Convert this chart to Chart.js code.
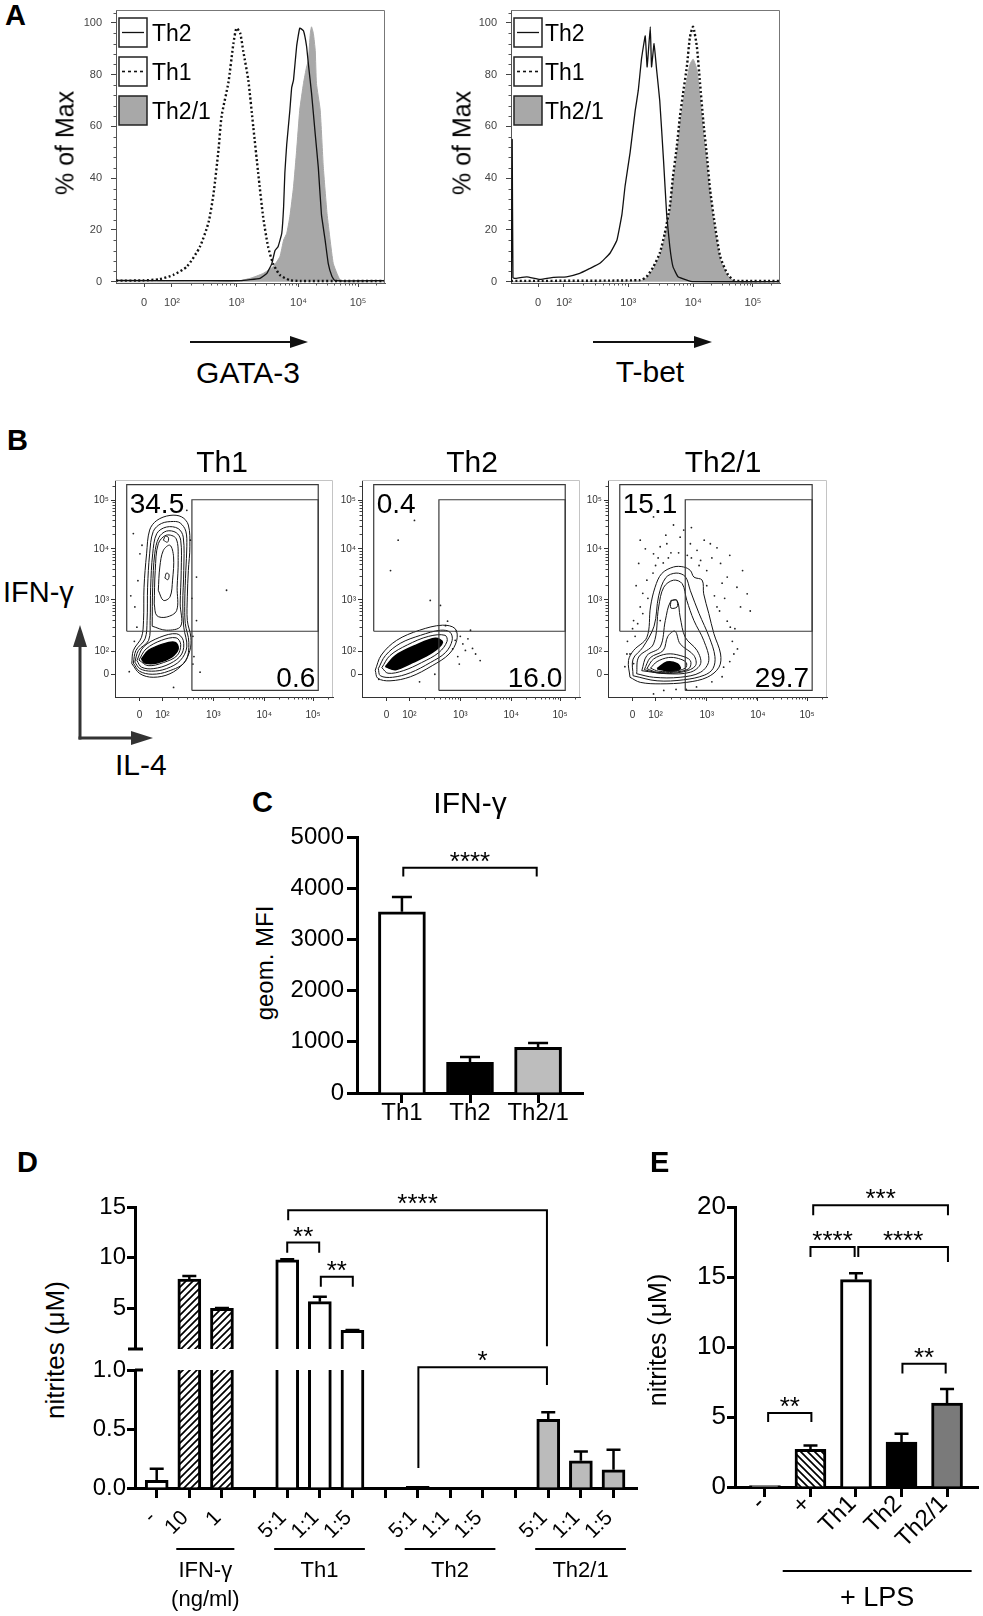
<!DOCTYPE html>
<html><head><meta charset="utf-8"><title>Figure</title>
<script src="https://cdn.jsdelivr.net/npm/chart.js@4.4.1/dist/chart.umd.min.js"></script>
<style>
html,body{margin:0;padding:0;background:#fff}
body{position:relative;width:983px;height:1616px;overflow:hidden;font-family:"Liberation Sans",Arial,Helvetica,sans-serif}
.t{position:absolute;white-space:nowrap;line-height:1;color:#000}
</style></head><body>
<svg width="983" height="1616" style="position:absolute;left:0;top:0;pointer-events:none">
<line x1="190" y1="342" x2="294" y2="342" stroke="#111" stroke-width="2"/>
<polygon points="290,336 308,342 290,348" fill="#111"/>
<line x1="593" y1="342" x2="698" y2="342" stroke="#111" stroke-width="2"/>
<polygon points="694,336 712,342 694,348" fill="#111"/>
<line x1="80" y1="739.5" x2="80" y2="645" stroke="#333" stroke-width="3"/>
<polygon points="73,647 80,625 87,647" fill="#333"/>
<line x1="78.5" y1="738" x2="133" y2="738" stroke="#333" stroke-width="3"/>
<polygon points="131,731 153,738 131,745" fill="#333"/>
</svg>
<script>
// ================= DATA =================
// Panel A – histograms: x = display position in log10 units, y = % of max
const histTickLabels = ['0', '10²', '10³', '10⁴', '10⁵'];
const gataTicks = [1.55, 2, 3.04, 4.04, 5];
const tbetTicks = [1.59, 2, 3.02, 4.05, 5];
const pctTicks = [0, 20, 40, 60, 80, 100];
const histLegend = ['Th2', 'Th1', 'Th2/1'];

const gataTh1 = [[1.10,0.4],[1.54,0.5],[1.80,1.0],[2.02,2.6],[2.24,5.8],[2.45,13.5],[2.59,23],[2.67,34],[2.75,51],[2.80,64],[2.91,77],[2.99,92],[3.04,98],[3.10,96],[3.15,89],[3.23,78],[3.31,60],[3.39,42],[3.47,25],[3.55,13.5],[3.63,7],[3.74,2.6],[3.90,0.6],[4.06,0.3],[5.43,0.3]];
const gataTh2 = [[1.10,0.5],[2.50,0.4],[3.10,0.4],[3.42,1.3],[3.53,3.2],[3.61,7],[3.66,12],[3.71,13.5],[3.77,18.7],[3.80,29],[3.82,42],[3.85,53],[3.90,66],[3.93,75],[3.96,78],[4.01,91],[4.06,98],[4.12,97],[4.17,91],[4.20,84],[4.25,73],[4.31,57],[4.36,44],[4.41,26],[4.47,16],[4.52,7],[4.58,2],[4.63,0.4],[5.43,0.4]];
const gataTh21 = [[1.10,0],[2.99,0],[3.26,1.3],[3.47,3.2],[3.63,5.8],[3.74,9.7],[3.80,16.1],[3.85,18.7],[3.90,25.1],[3.96,36.7],[4.01,50.8],[4.06,66.3],[4.12,76.6],[4.17,83],[4.20,85.6],[4.23,95.9],[4.25,98.5],[4.28,95.9],[4.31,89.4],[4.33,76.6],[4.39,66.3],[4.44,44.4],[4.50,26.4],[4.55,16.1],[4.60,7.1],[4.66,3.2],[4.71,0.6],[4.76,0],[5.43,0]];

const tbetTh2 = [[1.165,0],[1.178,55],[1.19,1.5],[1.22,1.3],[1.41,1.9],[1.62,0.9],[1.83,1.7],[2.04,1.9],[2.25,3.2],[2.41,5.1],[2.57,7.1],[2.73,11],[2.84,16],[2.92,26],[2.97,37],[3.05,50],[3.13,66],[3.18,74],[3.23,86],[3.29,95],[3.32,83],[3.37,98.5],[3.39,83],[3.43,92],[3.47,82],[3.52,70],[3.58,47],[3.63,26],[3.68,13.5],[3.73,5.8],[3.81,1.9],[3.95,0.6],[4.05,0],[5.43,0]];
const tbetTh1 = [[1.16,0.3],[3.21,0.6],[3.31,1.9],[3.42,5.8],[3.52,11],[3.60,18.7],[3.68,29],[3.73,40.5],[3.79,52],[3.84,63.7],[3.89,72.7],[3.95,83],[4.00,94.6],[4.05,98.5],[4.11,90.7],[4.16,76.6],[4.21,62.4],[4.27,48.3],[4.32,35.4],[4.40,21.2],[4.48,9.7],[4.59,3.2],[4.69,0.6],[4.79,0.3],[5.43,0.3]];
const tbetTh21 = [[1.16,0],[3.21,0.3],[3.31,1.5],[3.42,5],[3.52,10],[3.60,17],[3.68,27],[3.73,38],[3.79,49],[3.84,60],[3.89,69],[3.95,78],[4.00,84],[4.05,86],[4.11,82],[4.16,71],[4.21,58],[4.27,45],[4.32,33],[4.40,19],[4.48,8.5],[4.59,2.5],[4.69,0.4],[4.79,0],[5.43,0]];

// Panel B – flow cytometry contour plots (x = IL-4, y = IFN-γ, display log units)
const flowTickLabels = ['0', '10²', '10³', '10⁴', '10⁵'];
const flowTicksX = [1.55, 2, 3, 4, 4.96];
const flowTicksY = [1.54, 2, 3.02, 4.03, 4.99];
const gateIFN = [1.30, 2.40, 5.06, 5.30];
const gateIL4 = [2.58, 1.23, 5.06, 5.00];
const bTitles = ['Th1', 'Th2', 'Th2/1'];
const pctIFN = ['34.5', '0.4', '15.1'];
const pctIL4 = ['0.6', '16.0', '29.7'];

const th1Contours = [
 [[1.40,1.76],[1.43,2.02],[1.59,2.28],[1.63,2.61],[1.64,3.27],[1.69,3.93],[1.75,4.40],[1.89,4.59],[2.15,4.69],[2.38,4.66],[2.51,4.50],[2.54,4.07],[2.51,3.60],[2.49,3.08],[2.49,2.61],[2.56,2.28],[2.54,2.02],[2.41,1.76],[2.15,1.56],[1.82,1.49],[1.56,1.56],[1.40,1.76]],
 [[1.43,1.77],[1.48,2.02],[1.66,2.25],[1.70,2.61],[1.71,3.27],[1.75,3.93],[1.82,4.37],[1.98,4.53],[2.22,4.57],[2.35,4.54],[2.46,4.38],[2.48,4.07],[2.46,3.60],[2.44,3.00],[2.45,2.55],[2.52,2.18],[2.45,1.80],[2.12,1.61],[1.80,1.55],[1.55,1.61],[1.43,1.77]],
 [[1.46,1.79],[1.53,2.02],[1.73,2.22],[1.76,2.61],[1.77,3.27],[1.81,3.93],[1.89,4.33],[2.08,4.46],[2.31,4.43],[2.41,4.26],[2.42,3.60],[2.40,2.94],[2.42,2.48],[2.48,2.09],[2.35,1.82],[2.08,1.66],[1.79,1.61],[1.56,1.66],[1.46,1.79]],
 [[1.80,2.50],[1.81,3.27],[1.85,3.93],[1.93,4.25],[2.08,4.38],[2.27,4.35],[2.36,4.20],[2.37,3.60],[2.35,2.94],[2.36,2.50],[2.08,2.42],[1.80,2.50]],
 [[1.84,2.94],[1.86,3.60],[1.92,4.13],[2.08,4.30],[2.27,4.23],[2.31,3.80],[2.29,3.27],[2.28,2.81],[2.08,2.68],[1.89,2.71],[1.84,2.94]],
 [[1.92,3.21],[1.95,3.67],[2.02,4.00],[2.15,4.10],[2.22,3.87],[2.20,3.41],[2.15,3.08],[2.02,3.01],[1.92,3.21]],
 [[2.02,4.20],[2.06,4.28],[2.12,4.25],[2.10,4.16],[2.02,4.20]],
 [[2.05,3.45],[2.08,3.55],[2.13,3.52],[2.11,3.42],[2.05,3.45]],
 [[1.50,1.82],[1.63,2.09],[1.95,2.28],[2.28,2.35],[2.41,2.22],[2.38,1.95],[2.15,1.76],[1.82,1.66],[1.59,1.69],[1.50,1.82]],
 [[1.54,1.83],[1.68,2.05],[1.98,2.22],[2.27,2.27],[2.36,2.14],[2.29,1.92],[2.02,1.78],[1.72,1.72],[1.54,1.83]]
];
const th1Core = [[1.59,1.85],[1.73,2.02],[2.02,2.15],[2.25,2.18],[2.31,2.05],[2.18,1.89],[1.89,1.77],[1.66,1.77],[1.59,1.85]];
const th1Dots = [[1.56,3.93],[1.46,2.88],[2.67,3.47],[3.26,3.21],[2.67,2.61],[2.74,1.59],[2.22,1.29],[1.50,2.48],[1.43,4.33],[2.48,4.79],[1.38,3.10],[2.60,2.30],[1.35,1.60],[2.62,1.90],[1.45,2.20],[2.58,3.05],[1.60,4.10],[2.55,4.20],[1.52,3.40],[2.60,1.75]];

const th2Contours = [
 [[1.33,1.63],[1.45,1.93],[1.75,2.22],[2.20,2.42],[2.65,2.52],[2.90,2.45],[2.93,2.22],[2.78,1.95],[2.45,1.72],[2.02,1.50],[1.62,1.42],[1.38,1.47],[1.33,1.63]],
 [[1.39,1.66],[1.53,1.92],[1.82,2.16],[2.22,2.32],[2.61,2.42],[2.80,2.38],[2.84,2.22],[2.71,1.98],[2.41,1.78],[2.02,1.58],[1.67,1.49],[1.43,1.52],[1.39,1.66]],
 [[1.46,1.68],[1.62,1.92],[1.96,2.13],[2.38,2.30],[2.70,2.32],[2.74,2.20],[2.58,1.98],[2.24,1.78],[1.88,1.62],[1.58,1.57],[1.46,1.68]]
];
const th2Core = [[1.53,1.70],[1.73,1.92],[2.12,2.12],[2.51,2.26],[2.65,2.18],[2.45,1.98],[2.06,1.78],[1.73,1.64],[1.53,1.70]];
const th2Dots = [[2.61,2.91],[2.90,2.22],[3.10,2.02],[3.24,2.06],[3.39,1.82],[3.20,2.42],[2.71,2.51],[1.63,3.60],[2.10,4.59],[1.78,4.20],[2.41,3.01],[3.00,2.30],[2.95,1.90],[3.05,2.15],[2.85,2.05],[3.30,1.95],[2.75,2.60],[1.40,1.45],[2.20,1.40],[2.50,1.55],[2.92,2.40],[3.15,2.25],[2.98,1.75]];

const th21Contours = [
 [[1.50,1.49],[1.47,1.82],[1.57,2.02],[1.83,2.28],[1.90,2.88],[1.99,3.27],[2.12,3.54],[2.35,3.67],[2.55,3.67],[2.68,3.60],[2.75,3.47],[2.91,3.41],[2.94,3.14],[3.04,2.75],[3.14,2.35],[3.27,1.95],[3.24,1.69],[3.01,1.49],[2.61,1.39],[2.09,1.36],[1.70,1.39],[1.50,1.49]],
 [[1.56,1.52],[1.56,1.85],[1.75,2.08],[1.97,2.50],[2.06,3.10],[2.20,3.46],[2.40,3.55],[2.58,3.48],[2.68,3.20],[2.85,2.75],[3.05,2.28],[3.16,1.90],[3.12,1.66],[2.95,1.53],[2.55,1.44],[2.03,1.42],[1.56,1.52]],
 [[1.63,1.56],[1.67,1.89],[1.96,2.15],[2.06,2.88],[2.16,3.27],[2.35,3.41],[2.52,3.34],[2.61,3.01],[2.75,2.61],[2.94,2.22],[3.04,1.82],[2.88,1.59],[2.48,1.49],[1.96,1.49],[1.63,1.56]],
 [[1.73,1.62],[1.83,1.92],[2.09,2.09],[2.19,2.61],[2.29,2.98],[2.42,3.01],[2.48,2.68],[2.58,2.28],[2.81,2.02],[2.88,1.76],[2.68,1.59],[2.22,1.56],[1.73,1.62]],
 [[1.78,1.64],[1.90,1.88],[2.15,2.02],[2.24,2.30],[2.38,2.40],[2.48,2.15],[2.75,1.92],[2.78,1.72],[2.55,1.60],[2.10,1.57],[1.78,1.64]],
 [[1.83,1.66],[1.96,1.85],[2.22,1.95],[2.48,1.92],[2.68,1.82],[2.65,1.66],[2.35,1.59],[2.03,1.59],[1.83,1.66]],
 [[1.90,1.67],[2.03,1.80],[2.25,1.88],[2.45,1.86],[2.60,1.78],[2.58,1.67],[2.34,1.61],[2.06,1.61],[1.90,1.67]],
 [[2.30,3.01],[2.41,3.01],[2.42,2.88],[2.30,2.86],[2.30,3.01]]
];
const th21Core = [[2.03,1.66],[2.22,1.79],[2.42,1.76],[2.48,1.66],[2.29,1.61],[2.03,1.66]];
const th21Dots = [[1.80,4.03],[1.96,3.93],[2.09,4.07],[2.22,4.13],[2.48,4.26],[2.68,4.13],[2.81,4.00],[3.07,4.13],[3.27,3.74],[3.40,3.47],[3.59,3.27],[3.66,2.88],[1.57,2.61],[1.70,2.88],[1.83,3.41],[1.50,1.95],[1.96,4.66],[2.09,2.61],[3.46,2.48],[3.53,1.95],[3.33,1.69],[2.88,3.80],[2.55,4.40],[1.67,3.74],[3.79,3.14],[3.20,2.88],[1.96,1.16],[2.16,1.23],[1.57,1.76],[1.44,1.95],[2.30,3.95],[2.62,3.90],[3.00,3.60],[3.35,3.05],[1.75,3.15],[1.62,3.30],[3.50,2.20],[2.40,1.25],[3.10,3.85],[2.00,3.70],[1.60,2.30],[1.65,2.55],[1.75,2.75],[1.85,3.05],[1.95,3.55],[2.05,3.85],[2.15,3.75],[2.45,3.95],[2.70,3.85],[2.85,3.70],[3.00,3.30],[3.15,3.10],[3.25,2.80],[3.40,2.60],[3.55,2.45],[3.60,2.05],[3.45,1.80],[3.30,1.50],[3.10,1.40],[2.80,1.30],[2.60,1.25],[1.40,1.70],[1.45,2.20],[1.55,2.45],[2.20,4.30],[2.35,4.50],[2.70,4.45],[3.20,4.05],[3.45,3.90],[3.70,3.60],[3.85,2.80],[1.70,4.20],[2.95,4.20],[2.25,3.85],[3.30,3.35]];

// Panel C – IFN-γ geom. MFI
const cCats = ['Th1', 'Th2', 'Th2/1'];
const cMFI = [3540, 600, 890];
const cSEM = [290, 105, 85];
const cTicks = [0, 1000, 2000, 3000, 4000, 5000];
const cSig = [[0.02, 1.98, 4400, 4230, 4230, '****']];

// Panel D – nitrites (µM), broken axis
const dLabels = ['-', '10', '1', '', '5:1', '1:1', '1:5', '', '5:1', '1:1', '1:5', '', '5:1', '1:1', '1:5'];
const dValues = [0.064, 7.9, 5.0, null, 9.8, 5.67, 2.83, null, 0.015, 0, 0, null, 0.583, 0.23, 0.155];
const dErrors = [0.10, 0.3, 0.05, 0, 0.06, 0.49, 0.04, 0, 0, 0, 0, 0, 0.06, 0.08, 0.17];
const dTicksUpper = [5, 10, 15];
const dTicksLower = [0, 0.5, 1];
const dTickLabelsLower = ['0.0', '0.5', '1.0'];
const dGroups = [[0.6, 2.38, 'IFN-γ', '(ng/ml)'], [3.6, 6.38, 'Th1', ''], [7.6, 10.38, 'Th2', ''], [11.6, 14.38, 'Th2/1', '']];
const dSigUpper = [[4.0, 4.98, 11.5, 10.48, 10.48, '**'], [5.03, 6.01, 8.12, 7.14, 7.14, '**'], [4.03, 11.96, 14.67, 13.69, 1.26, '****']];
const dSigLower = [[8.02, 11.96, 1.023, 0.169, 0.873, '*']];

// Panel E – nitrites (µM) + LPS
const eLabels = ['-', '+', 'Th1', 'Th2', 'Th2/1'];
const eValues = [0.1, 2.69, 14.81, 3.21, 6.0];
const eErrors = [0, 0.27, 0.45, 0.6, 1.0];
const eTicks = [0, 5, 10, 15, 20];
const eGroups = [[0.39, 4.54, '+ LPS', '']];
const eSig = [[0.07, 1.02, 5.29, 4.64, 4.64, '**'], [3.02, 3.97, 8.81, 8.1, 8.1, '**'], [1.0, 1.97, 17.14, 16.43, 16.43, '****'], [2.05, 4.02, 17.14, 16.43, 16.07, '****'], [1.06, 4.02, 20.12, 19.41, 19.41, '***']];

// ================= HELPERS =================
Chart.defaults.font.family = '"Liberation Sans", Arial, Helvetica, sans-serif';
Chart.defaults.color = '#000';
const FAM = Chart.defaults.font.family;
const pts = a => a.map(p => ({x: p[0], y: p[1]}));
const barPts = a => a.map((v, i) => ({x: i, y: v}));
const rectPts = g => [{x:g[0],y:g[1]},{x:g[2],y:g[1]},{x:g[2],y:g[3]},{x:g[0],y:g[3]},{x:g[0],y:g[1]}];
function logMinors(m, max) {
  const out = [];
  for (let i = 1; i < m.length; i++) {
    const s = m[i], step = i + 1 < m.length ? m[i + 1] - s : s - m[i - 1];
    for (let k = 2; k < 10; k++) { const v = s + step * Math.log10(k); if (v < max) out.push(v); }
  }
  return out;
}
function hatch(dir) {
  const s = 7, c = document.createElement('canvas'); c.width = c.height = s;
  const g = c.getContext('2d'); g.fillStyle = '#fff'; g.fillRect(0, 0, s, s);
  g.strokeStyle = '#000'; g.lineWidth = 1.7; g.beginPath();
  if (dir === '/') { g.moveTo(-1, s + 1); g.lineTo(s + 1, -1); g.moveTo(-s/2 - 1, s/2 + 1); g.lineTo(s/2 + 1, -s/2 - 1); g.moveTo(s/2 - 1, 1.5*s + 1); g.lineTo(1.5*s + 1, s/2 - 1); }
  else { g.moveTo(-1, -1); g.lineTo(s + 1, s + 1); g.moveTo(-s/2 - 1, s/2 - 1); g.lineTo(s/2 + 1, 1.5*s + 1); g.moveTo(s/2 - 1, -s/2 - 1); g.lineTo(1.5*s + 1, s/2 + 1); }
  g.stroke();
  return g.createPattern(c, 'repeat');
}
function txt(s, x, base, size, align, bold) {
  const d = document.createElement('div'); d.className = 't'; d.textContent = s;
  d.style.fontSize = size + 'px'; if (bold) d.style.fontWeight = 'bold';
  d.style.top = (base - 0.8465 * size) + 'px'; d.style.left = x + 'px';
  if (align === 'center') d.style.transform = 'translateX(-50%)';
  if (align === 'right') d.style.transform = 'translateX(-100%)';
  document.body.appendChild(d);
}
function vtxt(s, cx, cy, size) {
  const d = document.createElement('div'); d.className = 't'; d.textContent = s;
  d.style.fontSize = size + 'px'; d.style.left = cx + 'px'; d.style.top = cy + 'px';
  d.style.transform = 'translate(-50%,-50%) rotate(-90deg)';
  document.body.appendChild(d);
}

const extras = {
  id: 'extras',
  afterDatasetsDraw(chart) {
    const ex = chart.canvas._ex; if (!ex || !ex.errors) return;
    const ctx = chart.ctx, a = chart.chartArea, ys = chart.scales.y, meta = chart.getDatasetMeta(0);
    ctx.save(); ctx.beginPath(); ctx.rect(a.left, a.top, a.right - a.left, a.bottom - a.top); ctx.clip();
    ctx.strokeStyle = '#000'; ctx.lineWidth = 2.5;
    meta.data.forEach((el, i) => {
      const v = ex.values[i], e = ex.errors[i];
      if (v == null || !e) return;
      const y0 = ys.getPixelForValue(v), y1 = ys.getPixelForValue(v + e), hw = ex.capW / 2;
      ctx.beginPath(); ctx.moveTo(el.x, y0); ctx.lineTo(el.x, y1);
      ctx.moveTo(el.x - hw, y1); ctx.lineTo(el.x + hw, y1); ctx.stroke();
    });
    ctx.restore();
  },
  afterDraw(chart) {
    const ex = chart.canvas._ex; if (!ex) return;
    const ctx = chart.ctx, a = chart.chartArea, xs = chart.scales.x, ys = chart.scales.y;
    ctx.save();
    if (ex.frame) {
      ctx.strokeStyle = ex.frame; ctx.lineWidth = 1; ctx.beginPath();
      ctx.moveTo(a.left, a.top + 0.5); ctx.lineTo(a.right - 0.5, a.top + 0.5); ctx.lineTo(a.right - 0.5, a.bottom); ctx.stroke();
    }
    ctx.strokeStyle = ex.minorColor || '#444'; ctx.lineWidth = 1;
    if (ex.minorX) ex.minorX.forEach(v => { const p = Math.round(xs.getPixelForValue(v)) + 0.5; ctx.beginPath(); ctx.moveTo(p, a.bottom); ctx.lineTo(p, a.bottom + ex.minorLen); ctx.stroke(); });
    if (ex.minorY) ex.minorY.forEach(v => { const p = Math.round(ys.getPixelForValue(v)) + 0.5; ctx.beginPath(); ctx.moveTo(a.left - ex.minorLen, p); ctx.lineTo(a.left, p); ctx.stroke(); });
    if (ex.legend) {
      ex.legend.forEach((lab, i) => {
        const ds = chart.data.datasets.find(d => d.label === lab);
        const bx = a.left + 3, by = a.top + 8 + 39 * i, bw = 28, bh = 29;
        if (ds.fill) { ctx.fillStyle = ds.backgroundColor; ctx.fillRect(bx, by, bw, bh); }
        ctx.setLineDash([]); ctx.strokeStyle = '#222'; ctx.lineWidth = 1.5; ctx.strokeRect(bx, by, bw, bh);
        if (!ds.fill) {
          ctx.strokeStyle = ds.borderColor; ctx.lineWidth = Math.min(ds.borderWidth, 1.6); ctx.setLineDash(ds.borderDash ? [3, 3] : []);
          ctx.beginPath(); ctx.moveTo(bx + 3, by + bh / 2); ctx.lineTo(bx + bw - 3, by + bh / 2); ctx.stroke();
        }
        ctx.setLineDash([]); ctx.fillStyle = '#000'; ctx.font = '23px ' + FAM; ctx.textAlign = 'left'; ctx.textBaseline = 'alphabetic';
        ctx.fillText(lab, a.left + ex.legendTextX, by + bh / 2 + 8);
      });
    }
    if (ex.quad) {
      ctx.fillStyle = '#000'; ctx.font = '28px ' + FAM; ctx.textBaseline = 'alphabetic';
      ctx.textAlign = 'left';
      ctx.fillText(ex.quad[0], xs.getPixelForValue(gateIFN[0]) + 3, ys.getPixelForValue(gateIFN[3]) + 28);
      ctx.textAlign = 'right';
      ctx.fillText(ex.quad[1], xs.getPixelForValue(gateIL4[2]) - 3, ys.getPixelForValue(gateIL4[1]) - 3);
    }
    if (ex.caps) {
      ctx.strokeStyle = '#000'; ctx.lineWidth = 3;
      ex.caps.forEach(c => { const p = ys.getPixelForValue(c[0]); ctx.beginPath(); ctx.moveTo(a.left - c[1], p); ctx.lineTo(a.left + c[2], p); ctx.stroke(); });
    }
    if (ex.brackets) {
      ctx.strokeStyle = '#000'; ctx.lineWidth = 2; ctx.fillStyle = '#000';
      ex.brackets.forEach(b => {
        const x1 = xs.getPixelForValue(b[0]), x2 = xs.getPixelForValue(b[1]);
        const y = ys.getPixelForValue(b[2]), y1 = ys.getPixelForValue(b[3]), y2 = ys.getPixelForValue(b[4]);
        ctx.beginPath(); ctx.moveTo(x1, y1); ctx.lineTo(x1, y); ctx.lineTo(x2, y); ctx.lineTo(x2, y2); ctx.stroke();
        ctx.font = '26px ' + FAM; ctx.textAlign = 'center'; ctx.textBaseline = 'alphabetic';
        ctx.fillText(b[5], (x1 + x2) / 2, y + 2);
      });
    }
    if (ex.groups) {
      const g = ex.groups;
      ctx.strokeStyle = '#000'; ctx.lineWidth = 2; ctx.fillStyle = '#000';
      g.items.forEach(it => {
        const x1 = xs.getPixelForValue(it[0]), x2 = xs.getPixelForValue(it[1]), m = (x1 + x2) / 2;
        ctx.beginPath(); ctx.moveTo(x1, a.bottom + g.lineOff); ctx.lineTo(x2, a.bottom + g.lineOff); ctx.stroke();
        ctx.font = g.size + 'px ' + FAM; ctx.textAlign = 'center'; ctx.textBaseline = 'alphabetic';
        ctx.fillText(it[2], m, a.bottom + g.textOff);
        if (it[3]) ctx.fillText(it[3], m, a.bottom + g.subOff);
      });
    }
    ctx.restore();
  }
};
Chart.register(extras);

const P = 30;
function mount(area, yW, xH, cfg, ex) {
  const left = area.l - yW, top = area.t - P;
  const w = Math.round(area.r - area.l + yW + P), h = Math.round(area.b - area.t + P + (xH || P));
  const cv = document.createElement('canvas');
  cv.width = w; cv.height = h;
  cv.style.cssText = 'position:absolute;left:' + left + 'px;top:' + top + 'px;width:' + w + 'px;height:' + h + 'px;';
  document.body.appendChild(cv);
  cv._ex = ex || {};
  const o = cfg.options;
  Object.assign(o, {responsive: false, maintainAspectRatio: false, animation: false, devicePixelRatio: 1, events: []});
  o.layout = {padding: {left: 0, top: P, right: P, bottom: xH ? 0 : P}};
  o.plugins = {legend: {display: false}, tooltip: {enabled: false}, title: {display: false}};
  o.scales.y.afterFit = s => { s.width = yW; };
  if (xH) o.scales.x.afterFit = s => { s.height = xH; };
  return new Chart(cv.getContext('2d'), cfg);
}
function fixedLinear(min, max, vals, labels, tick, grid, border, extra) {
  return Object.assign({
    type: 'linear', min: min, max: max, offset: false,
    afterBuildTicks: s => { s.ticks = vals.map(v => ({value: v})); },
    ticks: Object.assign({autoSkip: false, callback: (v, i) => labels[i]}, tick),
    grid: Object.assign({display: true, offset: false, drawOnChartArea: false, drawTicks: true}, grid),
    border: border
  }, extra || {});
}

// ================= PANEL A =================
function histChart(area, xr, ticks, th2, th1, th21, legendX) {
  mount(area, 45, 40, {
    type: 'line',
    data: {datasets: [
      {label: 'Th1', data: pts(th1), borderColor: '#111', borderWidth: 2.4, borderDash: [2, 2.4], pointRadius: 0, tension: 0.2, fill: false},
      {label: 'Th2', data: pts(th2), borderColor: '#111', borderWidth: 1.3, pointRadius: 0, tension: 0.1, fill: false},
      {label: 'Th2/1', data: pts(th21), borderColor: '#a8a8a8', backgroundColor: '#a8a8a8', borderWidth: 1, pointRadius: 0, tension: 0.15, fill: 'origin'}
    ]},
    options: {scales: {
      x: fixedLinear(xr[0], xr[1], ticks, histTickLabels, {font: {size: 11}, color: '#444', padding: 9, maxRotation: 0, minRotation: 0}, {tickLength: 4, tickColor: '#444', tickWidth: 1}, {display: true, color: '#555', width: 1}),
      y: fixedLinear(-0.5, 105, pctTicks, pctTicks.map(String), {font: {size: 11}, color: '#444', padding: 9}, {tickLength: 5, tickColor: '#444', tickWidth: 1}, {display: true, color: '#555', width: 1})
    }}
  }, {frame: '#777', legend: histLegend, legendTextX: legendX, minorX: logMinors(ticks, xr[1]), minorY: [4,8,12,16,24,28,32,36,44,48,52,56,64,68,72,76,84,88,92,96,104], minorLen: 2.5, minorColor: '#555'});
}
histChart({l: 116, t: 10, r: 385, b: 283}, [1.097, 5.435], gataTicks, gataTh2, gataTh1, gataTh21, 36);
histChart({l: 511, t: 10, r: 780, b: 283}, [1.159, 5.429], tbetTicks, tbetTh2, tbetTh1, tbetTh21, 34);

// ================= PANEL B =================
function flowChart(area, contours, core, dots, k) {
  const ds = [];
  [gateIFN, gateIL4].forEach(g => ds.push({data: rectPts(g), showLine: true, borderColor: '#3a3a3a', borderWidth: 1.2, pointRadius: 0, tension: 0, fill: false}));
  contours.forEach(c => ds.push({data: pts(c), showLine: true, borderColor: '#151515', borderWidth: 1, pointRadius: 0, tension: 0.35, fill: false}));
  ds.push({data: pts(core), showLine: true, borderColor: '#000', backgroundColor: '#000', borderWidth: 1.5, pointRadius: 0, tension: 0.35, fill: 'shape'});
  ds.push({data: pts(dots), showLine: false, pointRadius: 0.9, pointBorderWidth: 0, pointBackgroundColor: '#222', backgroundColor: '#222'});
  mount(area, 40, 30, {
    type: 'scatter',
    data: {datasets: ds},
    options: {scales: {
      x: fixedLinear(1.07, 5.35, flowTicksX, flowTickLabels, {font: {size: 10}, color: '#333', padding: 8, maxRotation: 0, minRotation: 0}, {tickLength: 4, tickColor: '#333', tickWidth: 1}, {display: true, color: '#333', width: 1}),
      y: fixedLinear(1.10, 5.39, flowTicksY, flowTickLabels, {font: {size: 10}, color: '#333', padding: 2}, {tickLength: 4, tickColor: '#333', tickWidth: 1}, {display: true, color: '#333', width: 1})
    }}
  }, {frame: '#c4c4c4', quad: [pctIFN[k], pctIL4[k]], minorX: logMinors(flowTicksX, 5.35), minorY: logMinors(flowTicksY, 5.39), minorLen: 2.5, minorColor: '#444'});
}
flowChart({l: 115, t: 480, r: 333, b: 697}, th1Contours, th1Core, th1Dots, 0);
flowChart({l: 362, t: 480, r: 580, b: 697}, th2Contours, th2Core, th2Dots, 1);
flowChart({l: 608, t: 480, r: 827, b: 697}, th21Contours, th21Core, th21Dots, 2);

// ================= PANEL C =================
const axisBlack = {display: true, color: '#000', width: 3};
const gridBlack = {tickLength: 10, tickWidth: 3, tickColor: '#000'};
mount({l: 357, t: 837, r: 583, b: 1093}, 75, 40, {
  type: 'bar',
  data: {datasets: [{data: barPts(cMFI), backgroundColor: ['#ffffff', '#000000', '#bdbdbd'], borderColor: '#000', borderWidth: 3, borderSkipped: 'start', barThickness: 47, clip: 0}]},
  options: {scales: {
    x: fixedLinear(-0.66, 2.66, [0, 1, 2], cCats, {font: {size: 24, lineHeight: 1}, padding: -2, maxRotation: 0, minRotation: 0}, gridBlack, axisBlack, {z: 1}),
    y: fixedLinear(0, 5000, cTicks, cTicks.map(String), {font: {size: 24}, padding: 3}, gridBlack, axisBlack)
  }}
}, {values: cMFI, errors: cSEM, capW: 20, brackets: cSig});

// ================= PANEL D =================
const H1 = hatch('/');
const dColors = ['#ffffff', H1, H1, '#ffffff', '#ffffff', '#ffffff', '#ffffff', '#ffffff', '#000000', '#000000', '#000000', '#ffffff', '#bbbbbb', '#bbbbbb', '#bbbbbb'];
const dIdx = dLabels.map((s, i) => i);
function dDataset() { return [{data: barPts(dValues), backgroundColor: dColors, borderColor: '#000', borderWidth: 3, borderSkipped: 'start', barThickness: 23, clip: 0}]; }
mount({l: 135, t: 1207, r: 637, b: 1349}, 55, 0, {
  type: 'bar',
  data: {datasets: dDataset()},
  options: {scales: {
    x: {type: 'linear', min: -0.665, max: 14.72, display: false, offset: false, grid: {offset: false}},
    y: fixedLinear(1, 15, dTicksUpper, dTicksUpper.map(String), {font: {size: 24}, padding: 1}, {tickLength: 8, tickWidth: 3, tickColor: '#000'}, axisBlack)
  }}
}, {values: dValues, errors: dErrors, capW: 14, caps: [[1, 7, 8]], brackets: dSigUpper});
mount({l: 135, t: 1370, r: 637, b: 1488}, 55, 128, {
  type: 'bar',
  data: {datasets: dDataset()},
  options: {scales: {
    x: fixedLinear(-0.665, 14.72, dIdx, dLabels.map(s => s ? s + ' ' : ''), {font: {size: 21, lineHeight: 0.2}, padding: 11, maxRotation: 45, minRotation: 45}, gridBlack, axisBlack, {z: 1}),
    y: fixedLinear(0, 1, dTicksLower, dTickLabelsLower, {font: {size: 24}, padding: 1}, {tickLength: 8, tickWidth: 3, tickColor: '#000'}, axisBlack)
  }}
}, {values: dValues, errors: dErrors, capW: 14, caps: [[1, 0, 8]], brackets: dSigLower, groups: {items: dGroups, lineOff: 61, textOff: 89, subOff: 118, size: 22}});

// ================= PANEL E =================
const H2 = hatch('\\');
const eColors = ['#ffffff', H2, '#ffffff', '#000000', '#7a7a7a'];
mount({l: 735, t: 1207, r: 978, b: 1487}, 48, 129, {
  type: 'bar',
  data: {datasets: [{data: barPts(eValues), backgroundColor: eColors, borderColor: '#000', borderWidth: 3, borderSkipped: 'start', barThickness: 31, clip: 0}]},
  options: {scales: {
    x: fixedLinear(-0.658, 4.68, [0, 1, 2, 3, 4], eLabels.map(s => s + '\u2009'), {font: {size: 24, lineHeight: 0.2}, padding: -2, maxRotation: 45, minRotation: 45}, gridBlack, axisBlack, {z: 1}),
    y: fixedLinear(0, 20, eTicks, eTicks.map(String), {font: {size: 26}, padding: 1}, {tickLength: 8, tickWidth: 3, tickColor: '#000'}, axisBlack)
  }}
}, {values: eValues, errors: eErrors, capW: 14, brackets: eSig, groups: {items: eGroups, lineOff: 84, textOff: 119, subOff: 0, size: 27}});

// ================= TEXT =================
txt('A', 5, 26, 29, 'left', true);
vtxt('% of Max', 65, 143, 25);
vtxt('% of Max', 462, 143, 25);
txt('GATA-3', 248, 383, 30, 'center');
txt('T-bet', 650, 382, 30, 'center');
txt('B', 7, 451, 29, 'left', true);
txt(bTitles[0], 222, 472, 30, 'center');
txt(bTitles[1], 472, 472, 30, 'center');
txt(bTitles[2], 723, 472, 30, 'center');
txt('IFN-γ', 3, 603, 29, 'left');
txt('IL-4', 115, 775, 30, 'left');
txt('C', 252, 813, 29, 'left', true);
txt('IFN-γ', 470, 813, 30, 'center');
vtxt('geom. MFI', 265, 963, 24);
txt('D', 17, 1173, 29, 'left', true);
vtxt('nitrites (μM)', 55, 1350, 26);
txt('E', 650, 1173, 29, 'left', true);
vtxt('nitrites (μM)', 657, 1340, 25);
</script></body></html>
